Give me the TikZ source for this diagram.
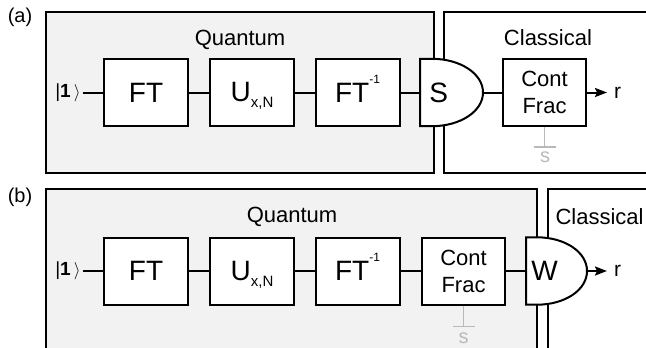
\documentclass[tikz,border=0pt]{standalone}
\usepackage{fontspec}
\setmainfont{Liberation Sans}
\usetikzlibrary{arrows.meta,calc,backgrounds}

\begin{document}
\begin{tikzpicture}[x=1pt,y=-1pt,
 box/.style={draw,line width=2pt,fill=white,minimum width=84pt,minimum height=67pt,inner sep=0pt,font=\fontsize{28}{30}\selectfont},
 cf/.style={box,minimum width=83pt,align=center,font=\fontsize{22}{27}\selectfont},
 gate/.style={anchor=west,minimum width=37pt,minimum height=67pt,inner sep=0pt,font=\fontsize{28}{30}\selectfont},
 gateline/.style={line width=2pt,fill=white},
 region/.style={draw,line width=1.5pt},
 lbl/.style={font=\fontsize{22}{26}\selectfont},
 ket/.style={font=\fontsize{19}{21}\selectfont,inner sep=2pt},
 wire/.style={line width=2pt},
 ar/.style={wire,-{Stealth[length=12pt,width=9pt,inset=2pt]},shorten >=6pt},
 ghost/.style={gray!55,line width=1.5pt}]
\useasboundingbox (0,0) rectangle (646,348);

% (a) search and continued fraction on the classical side
\node[font=\fontsize{20}{24}\selectfont] (taga) at (20,17) {(a)};
\node[lbl] (qlabela) at (240,40) {Quantum};
\node[lbl] (clabela) at (548,38) {Classical};
\node[ket] (ina) at (68,92.5) {|\textbf{1}\,$\rangle$};
\node[box] (fta) at (146,92.5) {FT};
\node[box] (ua) at (252,92.5) {U\raisebox{-6pt}[0pt][0pt]{\fontsize{15}{15}\selectfont x,N}};
\node[box] (fia) at (357.5,92.5) {FT\raisebox{19pt}[0pt][0pt]{\fontsize{12}{12}\selectfont -1}};
\node[gate] (sa) at (420,92.5) {S};
\coordinate (sa-tip) at ($(sa.west)+(63,0)$);
\node[cf] (cfa) at (544.5,92.5) {Cont\\Frac};
\node[font=\fontsize{21}{24}\selectfont,anchor=west,inner sep=1pt] (ra) at (613,92.5) {r};
\coordinate (ticka) at ($(cfa.south)+(0,20)$);
\node[text=gray!55,font=\fontsize{20}{22}\selectfont] (sva) at (545,157) {s};

\draw[wire] (ina) -- (fta);
\draw[wire] (fta) -- (ua);
\draw[wire] (ua) -- (fia);
\draw[wire] (fia) -- (sa);
\draw[wire] (sa-tip) -- (cfa);
\draw[ar] (cfa) -- (ra);
\draw[ghost] (cfa) -- (ticka);
\draw[ghost] ($(ticka)+(-11,0)$) -- ($(ticka)+(11,0)$);

% (b) everything but the last step on the quantum side
\node[font=\fontsize{20}{24}\selectfont] (tagb) at (20,197) {(b)};
\node[lbl] (qlabelb) at (292,217) {Quantum};
\node[lbl,anchor=west] (clabelb) at (552,217) {Classical};
\node[ket] (inb) at (68,271) {|\textbf{1}\,$\rangle$};
\node[box] (ftb) at (146,271) {FT};
\node[box] (ub) at (252,271) {U\raisebox{-6pt}[0pt][0pt]{\fontsize{15}{15}\selectfont x,N}};
\node[box] (fib) at (357.5,271) {FT\raisebox{19pt}[0pt][0pt]{\fontsize{12}{12}\selectfont -1}};
\node[cf] (cfb) at (463.5,271) {Cont\\Frac};
\node[gate] (wb) at (526,271) {W};
\coordinate (wb-tip) at ($(wb.west)+(61,0)$);
\node[font=\fontsize{21}{24}\selectfont,anchor=west,inner sep=1pt] (rb) at (613,271) {r};
\coordinate (tickb) at ($(cfb.south)+(0,21)$);
\node[text=gray!55,font=\fontsize{20}{22}\selectfont] (svb) at (463.5,338) {s};

\draw[wire] (inb) -- (ftb);
\draw[wire] (ftb) -- (ub);
\draw[wire] (ub) -- (fib);
\draw[wire] (fib) -- (cfb);
\draw[wire] (cfb) -- (wb);
\draw[ar] (wb-tip) -- (rb);
\draw[ghost] (cfb) -- (tickb);
\draw[ghost] ($(tickb)+(-11,0)$) -- ($(tickb)+(11,0)$);

\begin{scope}[on background layer]
\draw[region,fill=gray!10] (46,12) rectangle (434,173);
\draw[region] (444,12) rectangle (660,173);
\draw[region,fill=gray!10] (46,189) rectangle (537,360);
\draw[region] (548,189) rectangle (660,360);
\draw[gateline] (sa.south west) -- (sa.north west) -- ++(12,0)
  .. controls +(28,0) and +(0,-19) .. (sa-tip)
  .. controls +(0,19) and +(28,0) .. ($(sa.south west)+(12,0)$) -- cycle;
\draw[gateline] (wb.south west) -- (wb.north west) -- ++(11,0)
  .. controls +(28,0) and +(0,-19) .. (wb-tip)
  .. controls +(0,19) and +(28,0) .. ($(wb.south west)+(11,0)$) -- cycle;
\end{scope}
\end{tikzpicture}
\end{document}
